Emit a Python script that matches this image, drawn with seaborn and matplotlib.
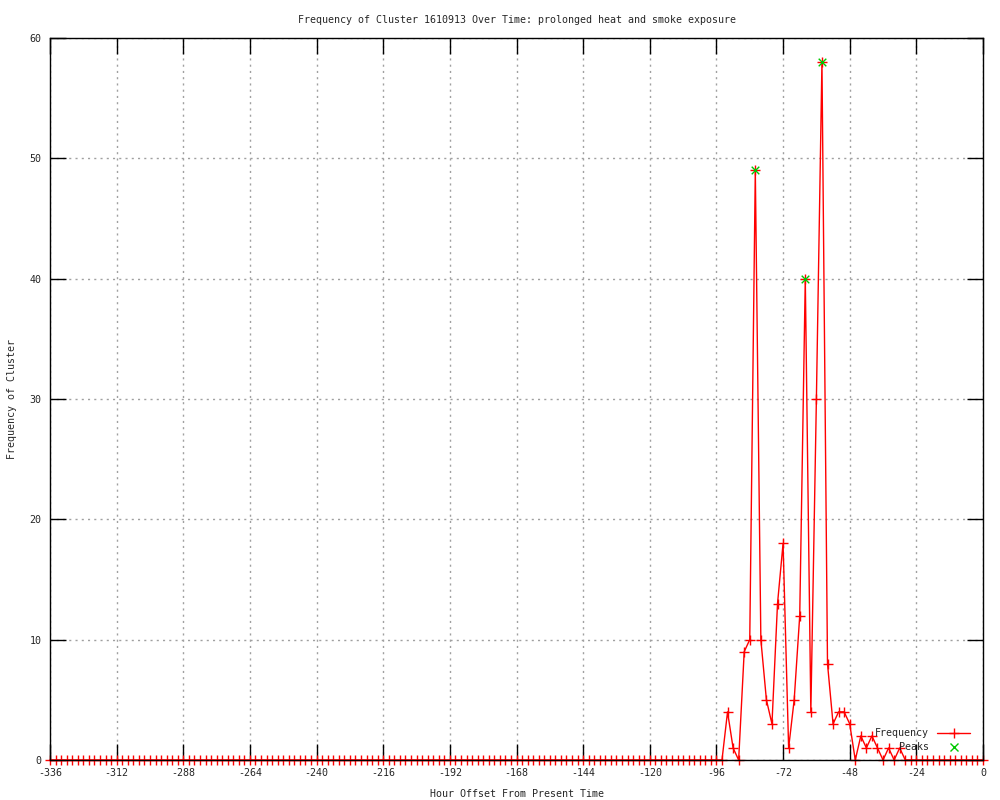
import numpy as np
import pandas as pd
import matplotlib
matplotlib.use("Agg")
import matplotlib.pyplot as plt
import seaborn as sns
from matplotlib.lines import Line2D

# ---- data (hours offset, every 2 h) ----
hours = list(range(-336, 1, 2))
nonzero = {
    -92: 4, -90: 1, -88: 0, -86: 9, -84: 10, -82: 49, -80: 10, -78: 5,
    -76: 3, -74: 13, -72: 18, -70: 1, -68: 5, -66: 12, -64: 40, -62: 4,
    -60: 30, -58: 58, -56: 8, -54: 3, -52: 4, -50: 4, -48: 3, -46: 0,
    -44: 2, -42: 1, -40: 2, -38: 1, -36: 0, -34: 1, -32: 0, -30: 1,
}
frequency = [nonzero.get(h, 0) for h in hours]
peak_hours = [-82, -64, -58]
peak_values = [49, 40, 58]

title = "Frequency of Cluster 1610913 Over Time: prolonged heat and smoke exposure"
xlabel = "Hour Offset From Present Time"
ylabel = "Frequency of Cluster"
xticks = list(range(-336, 1, 24))
yticks = list(range(0, 61, 10))

df = pd.DataFrame({"hour": hours, "freq": frequency})
peaks = pd.DataFrame({"hour": peak_hours, "freq": peak_values})

sns.set_style("white")
plt.rcParams["font.family"] = ["DejaVu Sans Mono"]
plt.rcParams["axes.unicode_minus"] = False
FS = 7.2

fig = plt.figure(figsize=(10, 8), dpi=100)
ax = fig.add_axes([0.05, 0.05, 0.933, 0.9025])

red = "#ff0000"
green = "#00c800"

sns.lineplot(data=df, x="hour", y="freq", ax=ax, color=red, linewidth=1.0,
             marker="+", markersize=6.5, markeredgewidth=1.0,
             markeredgecolor=red, zorder=3, clip_on=False)
sns.scatterplot(data=peaks, x="hour", y="freq", ax=ax, color=green,
                marker="x", s=30, linewidth=1.0, zorder=4)

ax.set_xlim(-336, 0)
ax.set_ylim(0, 60)
ax.set_xticks(xticks)
ax.set_yticks(yticks)
ax.set_xticklabels([str(t) for t in xticks], fontsize=FS)
ax.set_yticklabels([str(t) for t in yticks], fontsize=FS)
ax.tick_params(direction="in", length=11.5, width=1.0, color="black",
               top=True, right=True, bottom=True, left=True, pad=6)
ax.grid(True, color="#a0a0a0", linestyle=(0, (1.5, 3)), linewidth=1.0, zorder=0)
ax.set_axisbelow(True)
for s in ax.spines.values():
    s.set_color("black")
    s.set_linewidth(1.0)
    s.set_zorder(5)

ax.set_title(title, fontsize=FS, pad=11)
ax.set_xlabel(xlabel, fontsize=FS, labelpad=8)
ax.set_ylabel(ylabel, fontsize=FS, labelpad=9)

handles = [
    Line2D([0], [0], color=red, linewidth=1.0, marker="+", markersize=7),
    Line2D([0], [0], color=green, linestyle="none", marker="x", markersize=6),
]
leg = ax.legend(handles, ["Frequency", "Peaks"], loc="lower right",
                bbox_to_anchor=(0.995, 0.0), frameon=False, markerfirst=False,
                fontsize=FS, handlelength=3.3, labelspacing=0.4,
                borderaxespad=0.4)
for t in leg.get_texts():
    t.set_ha("right")

fig.savefig("out.png", dpi=100)
